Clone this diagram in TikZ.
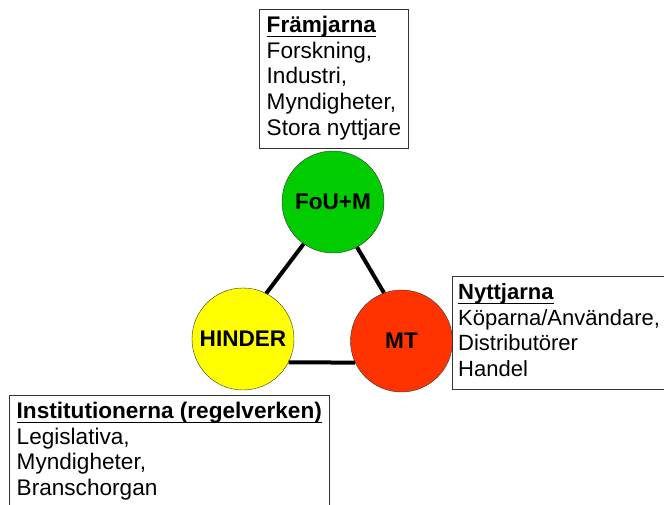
\documentclass[tikz,border=0pt]{standalone}
\usepackage{fontspec}
\setmainfont{Liberation Sans}
\usetikzlibrary{positioning}

% bold heading with a fixed underline
\newcommand{\uhead}[1]{\setbox0\hbox{\bfseries #1}\rlap{\rule[-5pt]{\wd0}{1.5pt}}\box0}

\begin{document}
\begin{tikzpicture}[x=1pt,y=-1pt,
    party/.style={circle, draw=black!80, thin, minimum size=102pt, inner sep=0pt,
        font=\fontsize{22.6}{25.8}\selectfont\bfseries},
    actorbox/.style={draw=black!80, thin, fill=white, align=left, anchor=north west,
        inner xsep=7.5pt, inner ysep=5pt, font=\fontsize{22.6}{25.8}\selectfont},
    link/.style={line width=4pt, black}]
    \useasboundingbox (0,0) rectangle (664,504);

    % the three parties
    \node[party, fill={rgb,255:red,0;green,204;blue,0}] (fou) at (333,202) {FoU+M};
    \node[party, fill={rgb,255:red,255;green,255;blue,0}] (hinder) at (243,339) {HINDER};
    \node[party, fill={rgb,255:red,255;green,51;blue,0}] (mt) at (401.5,341) {MT};

    % triangle between them
    \draw[link] (fou.235) -- (hinder.63);
    \draw[link] (fou.-62) -- (mt.110);
    \draw[link] (hinder.-27) -- (mt.205);

    % actor boxes
    \node[actorbox] (framjarna) at (259,9) {\uhead{Främjarna}\strut\\
        Forskning,\strut\\ Industri,\strut\\ Myndigheter,\strut\\ Stora nyttjare\strut};
    \node[actorbox, text width=220pt, inner xsep=6pt,
        font=\fontsize{22}{25.8}\selectfont] (nyttjarna) at (452,276) {\uhead{Nyttjarna}\strut\\
        Köparna/Användare,\strut\\ Distributörer\strut\\ Handel\strut};
    \node[actorbox] (institution) at (9,395) {\uhead{Institutionerna (regelverken)}\strut\\
        Legislativa,\strut\\ Myndigheter,\strut\\ Branschorgan\strut};
\end{tikzpicture}
\end{document}
